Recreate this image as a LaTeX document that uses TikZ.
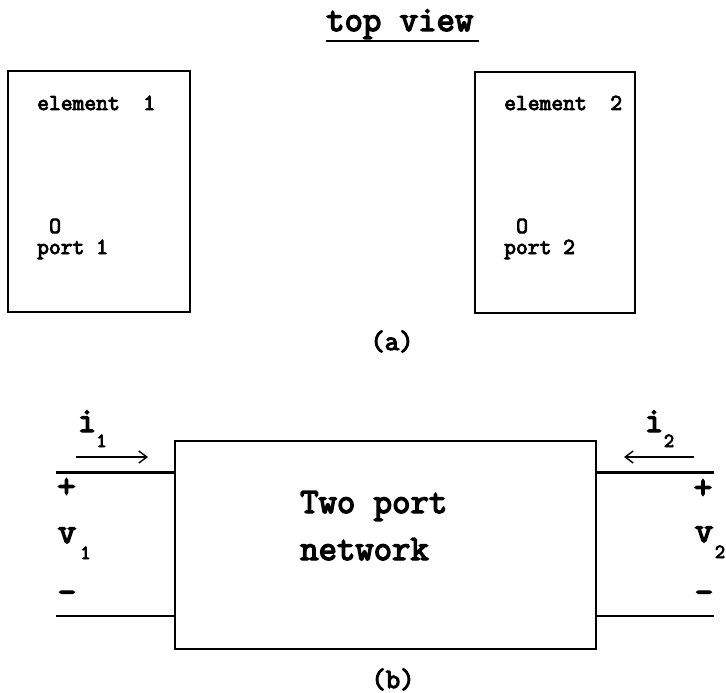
\documentclass[tikz,border=0pt]{standalone}
\usepackage{fontspec}
\newfontfamily\cour{Latin Modern Mono}[FakeBold=4]
\usetikzlibrary{arrows.meta}
\begin{document}
\begin{tikzpicture}[x=1pt,y=-1pt,
  txt/.style={font=\cour\bfseries\fontsize{22.9}{23}\selectfont, inner sep=0pt},
  lab/.style={font=\cour\bfseries\fontsize{28}{28}\selectfont, inner sep=0pt},
  big/.style={font=\cour\bfseries\fontsize{35.7}{36}\selectfont, inner sep=0pt},
  sub/.style={font=\cour\bfseries\fontsize{20}{20}\selectfont, inner sep=0pt},
  box/.style={draw, line width=2pt, inner sep=0pt},
  lead/.style={line width=2.2pt},
  cur/.style={line width=1.4pt, -{Straight Barb[length=8pt,width=12pt,line width=1.4pt]}}]
\useasboundingbox (0,0) rectangle (726,693);

% ---------- (a) top view ----------
\node[big, anchor=base west] (title) at (326,31) {top view};
\coordinate (ulA) at (326,41);
\coordinate (ulB) at (479,41);
\draw[line width=1.6pt] (ulA) -- (ulB);

\node[box, minimum width=182pt, minimum height=241pt] (el1) at (99,191.5) {};
\node[box, minimum width=160pt, minimum height=241pt] (el2) at (555,192.5) {};

\node[txt, anchor=base west] (e1txt) at (37,110) {element\ \ 1};
\node[txt, anchor=base west] (o1) at (49,233) {O};
\node[txt, anchor=base west] (p1) at (37,254) {port 1};

\node[txt, anchor=base west] (e2txt) at (504,110) {element\ \ 2};
\node[txt, anchor=base west] (o2) at (516,233) {O};
\node[txt, anchor=base west] (p2) at (504,254) {port 2};

\node[lab, anchor=base] (capa) at (392,350) {(a)};

% ---------- (b) two port network ----------
\node[box, minimum width=421pt, minimum height=208pt] (net) at (385.5,545) {};
\node[big, anchor=base west] (t1) at (300,513) {Two port};
\node[big, anchor=base west] (t2) at (300,560) {network};

\coordinate (l1t) at (56,472.5);
\coordinate (l1b) at (56,616);
\coordinate (r2t) at (714,472.5);
\coordinate (r2b) at (714,616);
\draw[lead] (l1t) -- (l1t -| net.west);
\draw[lead] (l1b) -- (l1b -| net.west);
\draw[lead] (net.east |- r2t) -- (r2t);
\draw[lead] (net.east |- r2b) -- (r2b);

% currents
\node[big, anchor=base] (i1) at (87,432) {i};
\node[sub, anchor=base] (i1s) at (101.5,447) {1};
\coordinate (a1s) at (76,457);
\coordinate (a1e) at (148,457);
\draw[cur] (a1s) -- (a1e);

\node[big, anchor=base] (i2) at (654,432) {i};
\node[sub, anchor=base] (i2s) at (669,447) {2};
\coordinate (a2s) at (694,457);
\coordinate (a2e) at (624,457);
\draw[cur] (a2s) -- (a2e);

% voltages
\node[big] (pl1) at (66.5,488) {+};
\node[big, anchor=base] (v1) at (67,543) {v};
\node[sub, anchor=base] (v1s) at (85.5,559) {1};
\node[big] (mi1) at (67,597) {-};

\node[big] (pl2) at (703,489) {+};
\node[big, anchor=base] (v2) at (704,542) {v};
\node[sub, anchor=base] (v2s) at (720,558) {2};
\node[big] (mi2) at (704,597) {-};

\node[lab, anchor=base] (capb) at (393,688) {(b)};
\end{tikzpicture}
\end{document}
